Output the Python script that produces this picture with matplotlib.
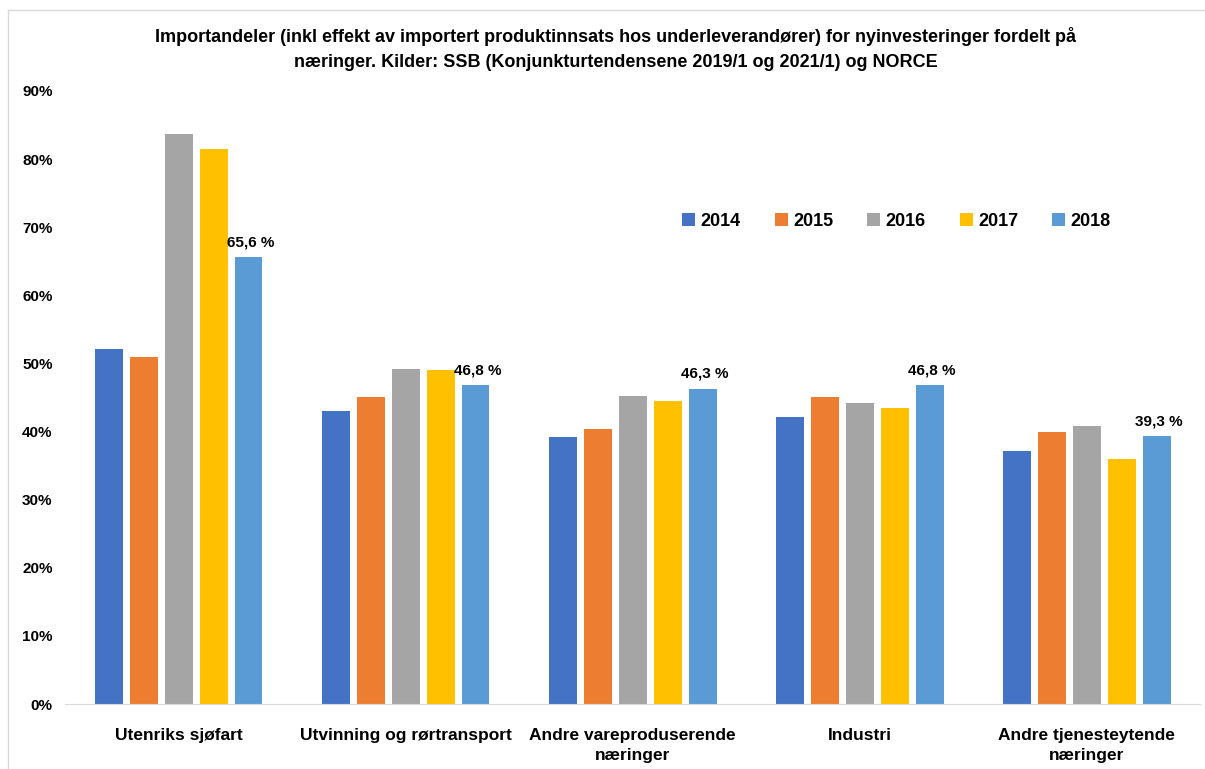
import matplotlib.pyplot as plt
import numpy as np
from matplotlib.lines import Line2D

plt.rcParams['font.family'] = ['Liberation Sans', 'DejaVu Sans']
plt.rcParams['font.weight'] = 'bold'

naeringer = ["Utenriks sjøfart", "Utvinning og rørtransport", "Andre vareproduserende\nnæringer",
             "Industri", "Andre tjenesteytende\nnæringer"]
aar = ["2014", "2015", "2016", "2017", "2018"]
v2014 = [52.1, 43.0, 39.2, 42.1, 37.2]
v2015 = [51.0, 45.1, 40.4, 45.1, 39.9]
v2016 = [83.7, 49.2, 45.2, 44.2, 40.8]
v2017 = [81.5, 49.0, 44.5, 43.5, 36.0]
v2018 = [65.6, 46.8, 46.3, 46.8, 39.3]
farger = ["#4472C4", "#ED7D31", "#A5A5A5", "#FFC000", "#5B9BD5"]

serier = [v2014, v2015, v2016, v2017, v2018]

fig = plt.figure(figsize=(12.05, 7.69), dpi=100)
ax = fig.add_axes([0.054, 0.0845, 0.942, 0.7972])

x = np.arange(len(naeringer))
bredde = 0.123
steg = 0.154
for i, (s, f, a) in enumerate(zip(serier, farger, aar)):
    bars = ax.bar(x + (i - 2) * steg, np.array(s) / 100, width=bredde, color=f, label=a)
    if a == "2018":
        for b, v in zip(bars, s):
            ax.text(b.get_x() + b.get_width() / 2 + 0.01, b.get_height() + 0.012,
                    f"{v:.1f} %".replace(".", ","), ha="center", va="bottom",
                    fontsize=11, fontweight="bold")

ax.set_xlim(-0.5, 4.5)
ax.set_ylim(0, 0.9)
ax.set_yticks(np.arange(0, 0.91, 0.1))
ax.set_yticklabels([f"{int(t)}%" for t in np.arange(0, 91, 10)], fontsize=11, fontweight="bold")
ax.set_xticks(x)
ax.set_xticklabels(naeringer, fontsize=12.5, fontweight="bold", linespacing=1.45)
ax.tick_params(axis="x", length=0, pad=17)
ax.tick_params(axis="y", length=0, pad=9)
for sp in ["top", "right", "left"]:
    ax.spines[sp].set_visible(False)
ax.spines["bottom"].set_color("#D9D9D9")

fig.legend(loc="center", bbox_to_anchor=(0.744, 0.712), ncol=5, frameon=False,
           handlelength=0.7, handleheight=0.7, handletextpad=0.3,
           columnspacing=1.9, prop={"weight": "bold", "size": 13})

fig.text(0.511, 0.936, "Importandeler (inkl effekt av importert produktinnsats hos underleverandører) for nyinvesteringer fordelt på\n"
         "næringer. Kilder: SSB (Konjunkturtendensene 2019/1 og 2021/1) og NORCE",
         ha="center", va="center", fontsize=13, fontweight="bold", linespacing=1.6)

fig.add_artist(Line2D([0.0066, 1.0], [0.987, 0.987], color="#D9D9D9", lw=1, transform=fig.transFigure))
fig.add_artist(Line2D([0.0066, 0.0066], [0.0, 0.987], color="#D9D9D9", lw=1, transform=fig.transFigure))

fig.savefig("out.png", dpi=100)
